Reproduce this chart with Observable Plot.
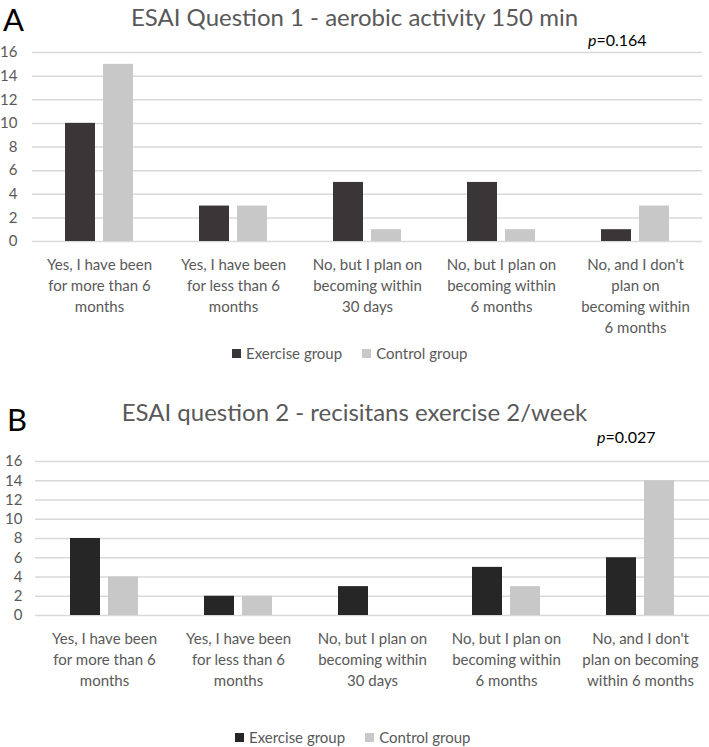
<!DOCTYPE html>
<html>
<head>
<meta charset="utf-8">
<script src="https://cdn.jsdelivr.net/npm/d3@7"></script>
<script src="https://cdn.jsdelivr.net/npm/@observablehq/plot@0.6"></script>
<style>
  html, body { margin: 0; padding: 0; background: #fff; }
  #root { position: relative; width: 709px; height: 747px; overflow: hidden; font-family: Lato, "Open Sans", sans-serif; }
  .abs { position: absolute; white-space: nowrap; }
  .letter { font-size: 31px; color: #000; line-height: 1.25; }
  .title { font-size: 24px; color: #595959; line-height: 1; width: 709px; left: 0; text-align: center; }
  .pval { font-size: 16px; color: #000; line-height: 1; }
  .legend { font-size: 15px; color: #595959; display: flex; align-items: center; line-height: 1; }
  .sw { display: inline-block; width: 9px; height: 9px; margin-right: 5px; }
  .item { display: inline-flex; align-items: center; }
  svg { position: absolute; left: 0; }
</style>
</head>
<body>
<div id="root"></div>
<script>
// ---------- data ----------
const categories = [
  "Yes, I have been for more than 6 months",
  "Yes, I have been for less than 6 months",
  "No, but I plan on becoming within 30 days",
  "No, but I plan on becoming within 6 months",
  "No, and I don't plan on becoming within 6 months"
];
const tickLabelsA = [
  "Yes, I have been\nfor more than 6\nmonths",
  "Yes, I have been\nfor less than 6\nmonths",
  "No, but I plan on\nbecoming within\n30 days",
  "No, but I plan on\nbecoming within\n6 months",
  "No, and I don't\nplan on\nbecoming within\n6 months"
];
const tickLabelsB = [
  "Yes, I have been\nfor more than 6\nmonths",
  "Yes, I have been\nfor less than 6\nmonths",
  "No, but I plan on\nbecoming within\n30 days",
  "No, but I plan on\nbecoming within\n6 months",
  "No, and I don't\nplan on becoming\nwithin 6 months"
];
const seriesNames = ["Exercise group", "Control group"];
const exerciseA = [10, 3, 5, 5, 1];
const controlA  = [15, 3, 1, 1, 3];
const exerciseB = [8, 2, 3, 5, 6];
const controlB  = [4, 2, 0, 3, 14];
const yTicks = [0, 2, 4, 6, 8, 10, 12, 14, 16];
const titleA = "ESAI Question 1 - aerobic activity 150 min";
const titleB = "ESAI question 2 - recisitans exercise 2/week";
const pA = "0.164";
const pB = "0.027";

// ---------- drawing ----------
const root = document.getElementById("root");
const textGray = "#595959";
const gridGray = "#d9d9d9";

function chart({ex, ctl, labels, exColor, ctlColor, top, height, marginTop, marginBottom, marginLeft, marginRight, tickPad}) {
  const exData = categories.map((c, i) => ({category: c, value: ex[i]}));
  const ctlData = categories.map((c, i) => ({category: c, value: ctl[i]}));
  const labelOf = new Map(categories.map((c, i) => [c, labels[i]]));
  const svg = Plot.plot({
    width: 709,
    height,
    marginTop, marginBottom, marginLeft, marginRight,
    style: {fontFamily: "Lato, 'Open Sans', sans-serif", background: "transparent", overflow: "visible"},
    x: {domain: categories, padding: 0},
    y: {domain: [0, 16]},
    marks: [
      Plot.gridY(yTicks, {stroke: gridGray, strokeOpacity: 1, strokeWidth: 1.5}),
      Plot.barY(exData, {x: "category", y: "value", fill: exColor, insetLeft: 33, insetRight: 71}),
      Plot.barY(ctlData, {x: "category", y: "value", fill: ctlColor, insetLeft: 71, insetRight: 33}),
      Plot.axisY(yTicks, {tickSize: 0, tickPadding: tickPad, fontSize: 15, fill: textGray, label: null}),
      Plot.axisX({tickSize: 0, tickPadding: 14, fontSize: 15, fill: textGray, label: null,
                  lineHeight: 1.4, tickFormat: (d) => labelOf.get(d)})
    ]
  });
  svg.style.top = top + "px";
  root.appendChild(svg);
}

function addText(cls, html, css) {
  const d = document.createElement("div");
  d.className = "abs " + cls;
  d.innerHTML = html;
  Object.assign(d.style, css);
  root.appendChild(d);
  return d;
}

function legend(ex, ctl, left, top) {
  const d = addText("legend", "", {left: left + "px", top: top + "px"});
  [[seriesNames[0], ex], [seriesNames[1], ctl]].forEach(([name, col], i) => {
    const it = document.createElement("span");
    it.className = "item";
    if (i > 0) it.style.marginLeft = "20px";
    it.innerHTML = `<span class="sw" style="background:${col}"></span><span>${name}</span>`;
    d.appendChild(it);
  });
}

// Panel A
chart({ex: exerciseA, ctl: controlA, labels: tickLabelsA, exColor: "#3a3536", ctlColor: "#c8c8c8",
       top: 0, height: 345, marginTop: 52, marginBottom: 104, marginLeft: 32, marginRight: 7, tickPad: 15});
addText("letter", "A", {left: "3px", top: "0px"});
addText("title", titleA, {top: "5px"});
addText("pval", `<i>p</i>=${pA}`, {left: "588px", top: "32px"});
legend("#3a3536", "#c8c8c8", 232, 346);

// Panel B
chart({ex: exerciseB, ctl: controlB, labels: tickLabelsB, exColor: "#262626", ctlColor: "#c8c8c8",
       top: 400, height: 300, marginTop: 61, marginBottom: 85, marginLeft: 35, marginRight: 0, tickPad: 13});
addText("letter", "B", {left: "7px", top: "400px"});
addText("title", titleB, {top: "400px"});
addText("pval", `<i>p</i>=${pB}`, {left: "597px", top: "429px"});
legend("#262626", "#c8c8c8", 235, 730);
</script>
</body>
</html>
